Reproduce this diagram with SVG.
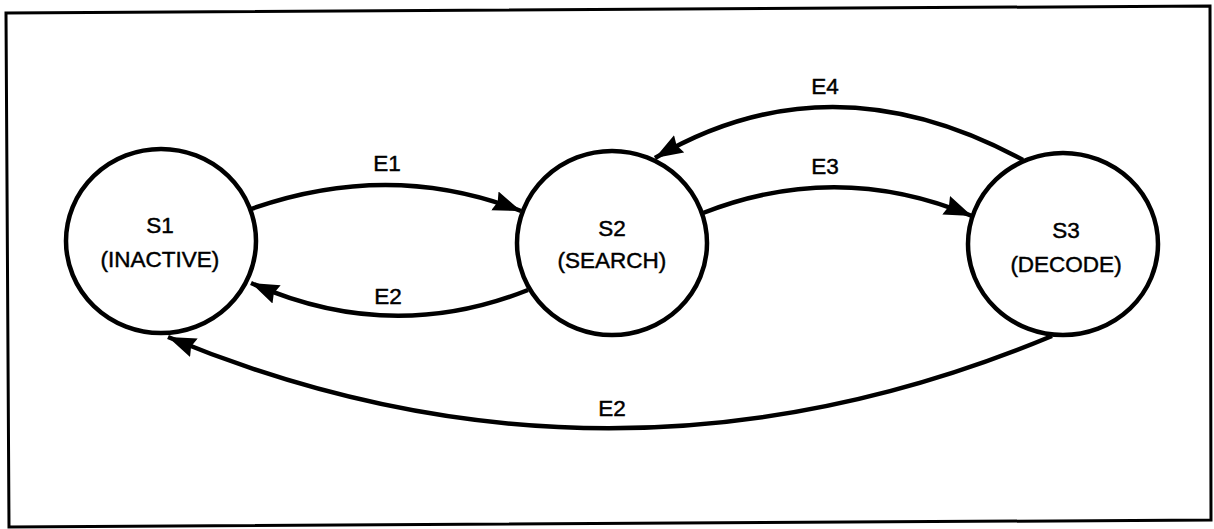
<svg xmlns="http://www.w3.org/2000/svg" width="1214" height="529" viewBox="0 0 1214 529">
  <style>
    .frame { fill: none; stroke: #000; stroke-width: 3; }
    .state { fill: #fff; stroke: #000; stroke-width: 4.5; }
    .edge { fill: none; stroke: #000; stroke-width: 4.5; marker-end: url(#arrow); }
    text { font-family: "Liberation Sans", Arial, sans-serif; font-size: 22.5px; fill: #000; stroke: #000; stroke-width: 0.45; text-anchor: middle; }
  </style>
  <defs>
    <marker id="arrow" markerUnits="userSpaceOnUse" markerWidth="30" markerHeight="22" viewBox="0 0 30 22" refX="28" refY="11" orient="auto">
      <path d="M0,1 L28,11 L0,21 L3,11 Z" fill="#000"/>
    </marker>
  </defs>

  <!-- outer frame -->
  <polygon class="frame" points="6,13 1210,6 1211,520 9,527"/>

  <!-- transitions -->
  <g id="connectors">
    <path id="e1" class="edge" d="M251,209 Q390,160 521,211"/>
    <path id="e2-s2-s1" class="edge" d="M528,290 Q390,345 251,283"/>
    <path id="e3" class="edge" d="M703,213 Q838,160 972,216"/>
    <path id="e4" class="edge" d="M1023,160 Q830,55 655,158"/>
    <path id="e2-s3-s1" class="edge" d="M1052,336 Q610,520 168,337"/>
    <text x="387" y="171">E1</text>
    <text x="388" y="304">E2</text>
    <text x="825" y="174">E3</text>
    <text x="825" y="94">E4</text>
    <text x="612" y="416">E2</text>
  </g>

  <!-- states -->
  <g id="s1">
    <ellipse class="state" cx="161" cy="241" rx="95" ry="92"/>
    <text x="160" y="233">S1</text>
    <text x="160" y="267">(INACTIVE)</text>
  </g>
  <g id="s2">
    <ellipse class="state" cx="612" cy="243" rx="95" ry="92"/>
    <text x="612" y="236">S2</text>
    <text x="612" y="268">(SEARCH)</text>
  </g>
  <g id="s3">
    <ellipse class="state" cx="1063" cy="244" rx="95" ry="91"/>
    <text x="1066" y="238">S3</text>
    <text x="1066" y="272">(DECODE)</text>
  </g>
</svg>
